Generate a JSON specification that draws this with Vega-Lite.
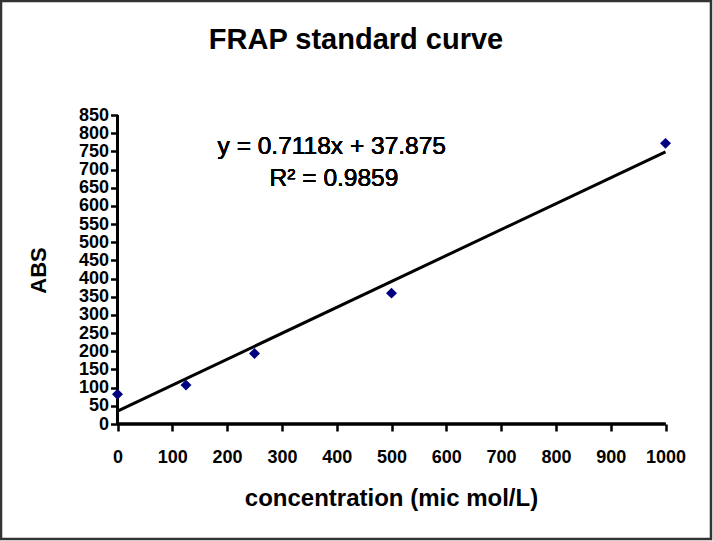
{
  "$schema": "https://vega.github.io/schema/vega-lite/v6.json",
  "width": 710,
  "height": 538,
  "autosize": "none",
  "padding": {"left": 1, "top": 1, "right": 2, "bottom": 2},
  "background": "white",
  "title": {
    "text": "FRAP standard curve",
    "fontSize": 29,
    "fontWeight": "bold",
    "font": "Liberation Sans",
    "color": "black",
    "anchor": "middle",
    "offset": -54
  },
  "config": {
    "font": "Liberation Sans",
    "view": {"stroke": "#333333", "strokeWidth": 2.5}
  },
  "resolve": {"axis": {"x": "independent", "y": "independent"}},
  "data": {
    "values": [
      {"concentration": 0, "ABS": 82},
      {"concentration": 125, "ABS": 107},
      {"concentration": 250, "ABS": 194},
      {"concentration": 500, "ABS": 360},
      {"concentration": 1000, "ABS": 772}
    ]
  },
  "layer": [
    {
      "mark": {"type": "rule", "color": "black", "strokeWidth": 2.5},
      "encoding": {
        "x": {"datum": 0, "type": "quantitative", "scale": {"domain": [-212.6, 1083], "nice": false, "zero": false}, "axis": null},
        "x2": {"datum": 1000},
        "y": {"datum": 0, "type": "quantitative", "scale": {"domain": [-316.3, 1163.6], "nice": false, "zero": false}, "axis": null}
      }
    },
    {
      "mark": {"type": "rule", "color": "black", "strokeWidth": 2.5},
      "encoding": {
        "x": {"datum": 0, "type": "quantitative", "scale": {"domain": [-212.6, 1083], "nice": false, "zero": false}, "axis": null},
        "y": {"datum": 0, "type": "quantitative", "scale": {"domain": [-316.3, 1163.6], "nice": false, "zero": false}, "axis": null},
        "y2": {"datum": 850}
      }
    },
    {
      "transform": [{"regression": "ABS", "on": "concentration", "extent": [0, 1000]}],
      "mark": {"type": "line", "color": "black", "strokeWidth": 3},
      "encoding": {
        "x": {"field": "concentration", "type": "quantitative", "scale": {"domain": [-212.6, 1083], "nice": false, "zero": false}, "axis": null},
        "y": {"field": "ABS", "type": "quantitative", "scale": {"domain": [-316.3, 1163.6], "nice": false, "zero": false}, "axis": null}
      }
    },
    {
      "mark": {"type": "point", "shape": "diamond", "filled": true, "color": "#000080", "size": 120, "opacity": 1},
      "encoding": {
        "x": {
          "field": "concentration",
          "type": "quantitative",
          "scale": {"domain": [-212.6, 1083], "nice": false, "zero": false},
          "axis": {
            "title": "concentration (mic mol/L)",
            "values": [0, 100, 200, 300, 400, 500, 600, 700, 800, 900, 1000],
            "format": "d",
            "offset": -115,
            "domain": false,
            "grid": false,
            "ticks": true,
            "tickSize": 7,
            "tickWidth": 2.5,
            "tickColor": "black",
            "labelFontSize": 18,
            "labelFontWeight": "bold",
            "labelColor": "black",
            "labelPadding": 17,
            "labelFlush": false,
            "labelOverlap": false,
            "labelBound": false,
            "titleFontSize": 24,
            "titleFontWeight": "bold",
            "titleColor": "black",
            "titlePadding": 20,
            "titleX": 390
          }
        },
        "y": {
          "field": "ABS",
          "type": "quantitative",
          "scale": {"domain": [-316.3, 1163.6], "nice": false, "zero": false},
          "axis": {
            "title": "ABS",
            "values": [0, 50, 100, 150, 200, 250, 300, 350, 400, 450, 500, 550, 600, 650, 700, 750, 800, 850],
            "format": "d",
            "offset": -116.5,
            "domain": false,
            "grid": false,
            "ticks": true,
            "tickSize": 7,
            "tickWidth": 2.5,
            "tickColor": "black",
            "labelFontSize": 18,
            "labelFontWeight": "bold",
            "labelColor": "black",
            "labelPadding": 2,
            "labelFlush": false,
            "labelOverlap": false,
            "labelBound": false,
            "titleFontSize": 22,
            "titleFontWeight": "bold",
            "titleColor": "black",
            "titlePadding": 28
          }
        }
      }
    },
    {
      "mark": {"type": "text", "fontSize": 24.5, "align": "center", "baseline": "alphabetic", "color": "black"},
      "encoding": {
        "x": {"datum": 391, "type": "quantitative", "scale": {"domain": [-212.6, 1083], "nice": false, "zero": false}, "axis": null},
        "y": {"datum": 742.7, "type": "quantitative", "scale": {"domain": [-316.3, 1163.6], "nice": false, "zero": false}, "axis": null},
        "text": {"value": "y = 0.7118x + 37.875"}
      }
    },
    {
      "mark": {"type": "text", "fontSize": 24.5, "align": "center", "baseline": "alphabetic", "color": "black"},
      "encoding": {
        "x": {"datum": 395, "type": "quantitative", "scale": {"domain": [-212.6, 1083], "nice": false, "zero": false}, "axis": null},
        "y": {"datum": 654.7, "type": "quantitative", "scale": {"domain": [-316.3, 1163.6], "nice": false, "zero": false}, "axis": null},
        "text": {"value": "R² = 0.9859"}
      }
    }
  ]
}
